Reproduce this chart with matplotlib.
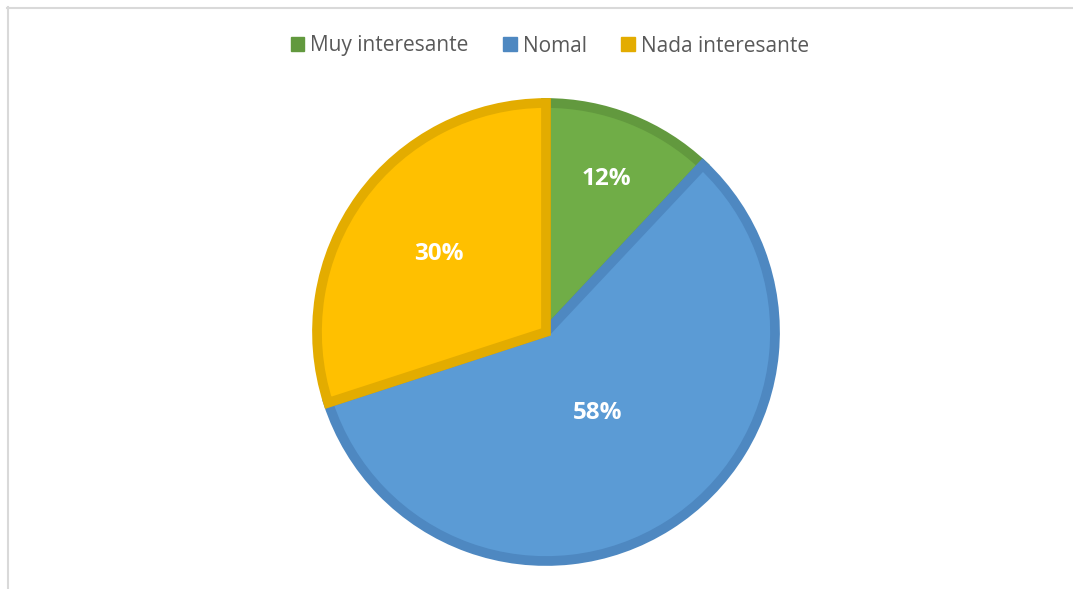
import numpy as np
import matplotlib.pyplot as plt
from matplotlib.patches import Patch
from matplotlib.lines import Line2D

# Data
categories = ['Muy interesante', 'Nomal', 'Nada interesante']
shares = [12, 58, 30]
pct_labels = ['12%', '58%', '30%']

fill_colors = ['#70AD47', '#5B9BD5', '#FFC000']
edge_colors = ['#62993E', '#4E88C1', '#E3AC00']
label_r = [0.72, 0.42, 0.58]  # radial position of each percent label

fig = plt.figure(figsize=(10.73, 5.89), dpi=100)
fig.patch.set_facecolor('white')

# thin grey frame (top and left visible in reference)
fig.add_artist(Line2D([7 / 1073, 1.0], [1 - 7.5 / 589, 1 - 7.5 / 589], color='#D9D9D9', lw=1.5))
fig.add_artist(Line2D([7.5 / 1073, 7.5 / 1073], [0, 1 - 7 / 589], color='#D9D9D9', lw=1.5))

r_px = 229
cx, cy = 546, 332
ax = fig.add_axes([(cx - r_px) / 1073, (589 - cy - r_px) / 589, 2 * r_px / 1073, 2 * r_px / 589])

wedges, _ = ax.pie(shares, colors=fill_colors, startangle=90, counterclock=False,
                   radius=1.0, wedgeprops=dict(linewidth=7, joinstyle='miter'))
for w, ec in zip(wedges, edge_colors):
    w.set_edgecolor(ec)

for w, lab, rr in zip(wedges, pct_labels, label_r):
    ang = np.deg2rad((w.theta1 + w.theta2) / 2)
    ax.text(rr * np.cos(ang), rr * np.sin(ang), lab, ha='center', va='center',
            color='white', fontsize=17.5, fontweight='bold', family='Open Sans')

ax.set_xlim(-1.0, 1.0)
ax.set_ylim(-1.0, 1.0)
ax.set_aspect('equal')
ax.axis('off')

handles = [Patch(facecolor=c, edgecolor=c) for c in edge_colors]
leg = fig.legend(handles, categories, loc='center', bbox_to_anchor=(550 / 1073, 1 - 46 / 589),
                 ncol=3, frameon=False, handlelength=0.65, handleheight=0.65,
                 handletextpad=0.3, columnspacing=1.65, prop={'family': 'Open Sans', 'size': 15})
for t in leg.get_texts():
    t.set_color('#595959')

plt.savefig('out.png', dpi=100)
